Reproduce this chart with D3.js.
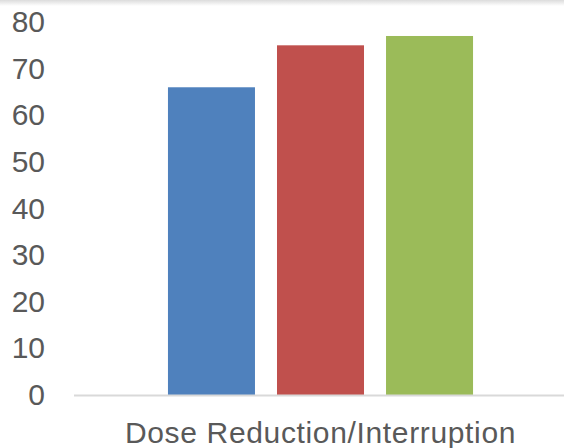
<!DOCTYPE html>
<html>
<head>
<meta charset="utf-8">
<script src="https://cdn.jsdelivr.net/npm/d3@7/dist/d3.min.js"></script>
<style>
  html, body { margin: 0; padding: 0; background: #fff; }
  svg { display: block; }
</style>
</head>
<body>
<svg id="chart" width="564" height="448"></svg>
<script>
// Chart data
const categories = ["Dose Reduction/Interruption"];
const seriesNames = ["Series 1", "Series 2", "Series 3"];
const seriesValues = [66, 75, 77];
const seriesColors = ["#4f81bd", "#c0504d", "#9bbb59"];
const yTicks = [0, 10, 20, 30, 40, 50, 60, 70, 80];

const W = 564, H = 448;
const margin = { top: 22, right: -3, bottom: 53, left: 74 };
const svg = d3.select("#chart");

// soft shade along the top edge
const defs = svg.append("defs");
const grad = defs.append("linearGradient")
  .attr("id", "topShade").attr("x1", 0).attr("y1", 0).attr("x2", 0).attr("y2", 1);
grad.append("stop").attr("offset", "0%").attr("stop-color", "#dcdcdc");
grad.append("stop").attr("offset", "100%").attr("stop-color", "#ffffff");
svg.append("rect").attr("x", 0).attr("y", 0).attr("width", W).attr("height", 6)
  .attr("fill", "url(#topShade)");

const x0 = d3.scaleBand()
  .domain(categories)
  .range([margin.left, W - margin.right])
  .paddingInner(0).paddingOuter(0.308);

const x1 = d3.scaleBand()
  .domain(seriesNames)
  .range([0, x0.bandwidth()])
  .paddingInner(0.202).paddingOuter(0);

const y = d3.scaleLinear()
  .domain([0, 80])
  .range([H - margin.bottom, margin.top]);

// bars
const group = svg.append("g").selectAll("g")
  .data(categories).join("g")
  .attr("transform", d => `translate(${x0(d)},0)`);

group.selectAll("rect")
  .data(() => seriesNames.map((s, i) => ({ s, v: seriesValues[i], c: seriesColors[i] })))
  .join("rect")
  .attr("x", d => x1(d.s))
  .attr("width", x1.bandwidth())
  .attr("y", d => y(d.v))
  .attr("height", d => y(0) - y(d.v))
  .attr("fill", d => d.c);

// y axis labels
const yAxis = d3.axisLeft(y).tickValues(yTicks).tickSize(0).tickPadding(29);
const gy = svg.append("g").attr("transform", `translate(${margin.left},0)`).call(yAxis);
gy.select(".domain").remove();
gy.selectAll("text")
  .attr("fill", "#595959")
  .style("font-family", "Liberation Sans, Arial, sans-serif")
  .style("font-size", "30px");

// x axis baseline and category label
const xAxis = d3.axisBottom(x0).tickSize(0).tickPadding(27);
const gx = svg.append("g").attr("transform", `translate(0,${y(0)})`).call(xAxis);
gx.select(".domain")
  .attr("d", `M${margin.left},0.5H${W}`)
  .attr("stroke", "#d9d9d9").attr("stroke-width", 2);
gx.selectAll("text")
  .attr("fill", "#595959")
  .style("font-family", "Liberation Sans, Arial, sans-serif")
  .style("font-size", "30px")
  .style("letter-spacing", "0.65px");
</script>
</body>
</html>
